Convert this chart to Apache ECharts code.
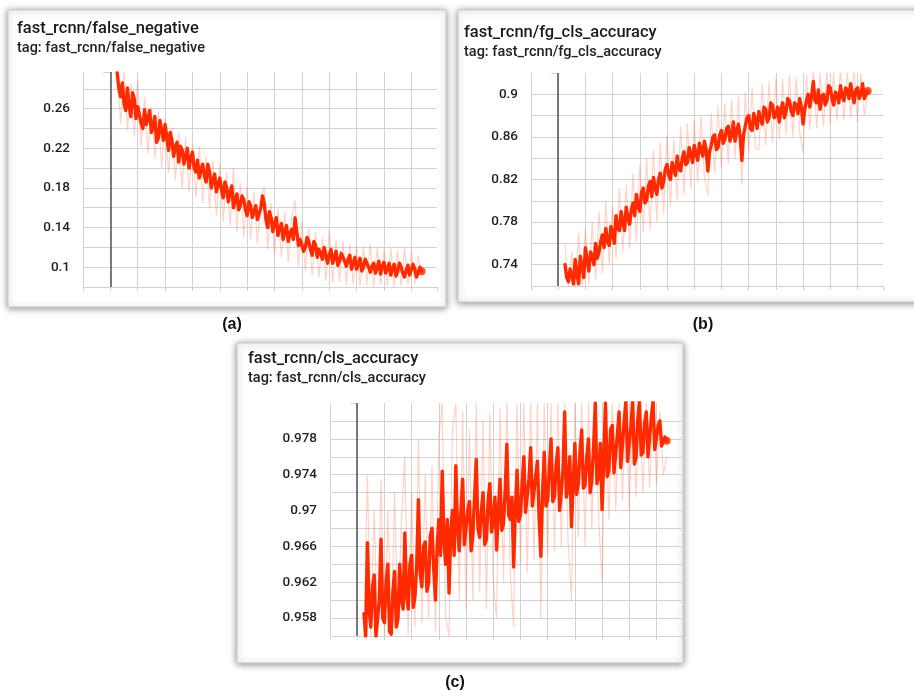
<!DOCTYPE html>
<html>
<head>
<meta charset="utf-8">
<script src="https://cdn.jsdelivr.net/npm/echarts@6/dist/echarts.min.js"></script>
<style>
html,body{margin:0;padding:0;background:#fff;}
#chart{width:914px;height:696px;}
</style>
</head>
<body>
<div id="chart"></div>
<script>
// ---- data (x = training step, in units where one grid column = 8) ----
// raw (unsmoothed) values are logged at every step
const steps = [2,3,4,5,6,7,8,9,10,11,12,13,14,15,16,17,18,19,20,21,22,23,24,25,26,27,28,29,30,31,32,33,34,35,36,37,38,39,40,41,42,43,44,45,46,47,48,49,50,51,52,53,54,55,56,57,58,59,60,61,62,63,64,65,66,67,68,69,70,71,72,73,74,75,76,77,78,79,80,81,82,83,84,85,86,87,88,89,90,91];
// smoothed curve is read at every half step
const stepsFine = [2,2.5,3,3.5,4,4.5,5,5.5,6,6.5,7,7.5,8,8.5,9,9.5,10,10.5,11,11.5,
12,12.5,13,13.5,14,14.5,15,15.5,16,16.5,17,17.5,18,18.5,19,19.5,20,20.5,21,21.5,
22,22.5,23,23.5,24,24.5,25,25.5,26,26.5,27,27.5,28,28.5,29,29.5,30,30.5,31,31.5,
32,32.5,33,33.5,34,34.5,35,35.5,36,36.5,37,37.5,38,38.5,39,39.5,40,40.5,41,41.5,
42,42.5,43,43.5,44,44.5,45,45.5,46,46.5,47,47.5,48,48.5,49,49.5,50,50.5,51,51.5,
52,52.5,53,53.5,54,54.5,55,55.5,56,56.5,57,57.5,58,58.5,59,59.5,60,60.5,61,61.5,
62,62.5,63,63.5,64,64.5,65,65.5,66,66.5,67,67.5,68,68.5,69,69.5,70,70.5,71,71.5,
72,72.5,73,73.5,74,74.5,75,75.5,76,76.5,77,77.5,78,78.5,79,79.5,80,80.5,81,81.5,
82,82.5,83,83.5,84,84.5,85,85.5,86,86.5,87,87.5,88,88.5,89,89.5,90,90.5,91];

const titles = ['fast_rcnn/false_negative','fast_rcnn/fg_cls_accuracy','fast_rcnn/cls_accuracy'];
const panelLabels = ['(a)','(b)','(c)'];

const fnSmooth = [0.296,0.280,0.272,0.286,0.265,0.258,0.281,0.262,0.252,0.276,0.270,0.250,0.262,0.264,0.245,0.240,0.259,0.244,0.250,0.258,
0.236,0.242,0.252,0.226,0.230,0.248,0.238,0.228,0.244,0.232,0.218,0.236,0.228,0.212,0.222,0.226,0.206,0.222,0.218,0.204,
0.212,0.220,0.200,0.210,0.216,0.200,0.196,0.208,0.190,0.198,0.204,0.192,0.186,0.204,0.196,0.180,0.188,0.194,0.176,0.184,
0.190,0.178,0.170,0.186,0.180,0.166,0.176,0.182,0.160,0.168,0.174,0.158,0.162,0.172,0.168,0.158,0.152,0.166,0.162,0.150,
0.156,0.162,0.148,0.154,0.160,0.172,0.164,0.148,0.140,0.156,0.150,0.136,0.144,0.150,0.132,0.140,0.144,0.128,0.136,0.142,
0.126,0.134,0.138,0.128,0.150,0.136,0.122,0.128,0.130,0.116,0.120,0.130,0.126,0.118,0.112,0.126,0.122,0.110,0.118,0.114,
0.108,0.120,0.118,0.104,0.112,0.118,0.104,0.110,0.116,0.102,0.106,0.114,0.110,0.106,0.101,0.108,0.112,0.098,0.104,0.110,
0.098,0.104,0.109,0.096,0.100,0.108,0.106,0.100,0.095,0.101,0.104,0.094,0.099,0.106,0.093,0.101,0.105,0.094,0.098,0.104,
0.092,0.099,0.103,0.091,0.096,0.104,0.100,0.094,0.090,0.097,0.102,0.092,0.094,0.103,0.098,0.090,0.092,0.100,0.096];
const fnRaw = [0.300,0.245,0.298,0.238,0.285,0.232,0.290,0.222,0.272,0.215,
0.262,0.210,0.258,0.200,0.250,0.195,0.240,0.188,0.236,0.180,
0.231,0.176,0.225,0.170,0.222,0.165,0.212,0.160,0.208,0.152,
0.205,0.146,0.196,0.141,0.200,0.136,0.185,0.130,0.182,0.128,
0.176,0.124,0.170,0.181,0.118,0.165,0.112,0.160,0.110,0.156,
0.105,0.150,0.168,0.100,0.146,0.096,0.140,0.092,0.136,0.090,
0.130,0.086,0.138,0.084,0.128,0.085,0.126,0.082,0.124,0.083,
0.122,0.081,0.121,0.082,0.124,0.080,0.120,0.082,0.118,0.081,
0.119,0.080,0.117,0.081,0.120,0.082,0.116,0.083,0.112,0.092];

const fgSmooth = [0.740,0.728,0.724,0.736,0.730,0.722,0.745,0.732,0.722,0.748,0.738,0.728,0.756,0.744,0.734,0.752,0.748,0.740,0.760,0.746,
0.752,0.762,0.768,0.756,0.774,0.762,0.758,0.776,0.770,0.760,0.786,0.774,0.772,0.790,0.780,0.772,0.794,0.784,0.778,0.792,
0.798,0.786,0.806,0.794,0.790,0.808,0.812,0.798,0.800,0.814,0.818,0.804,0.822,0.812,0.806,0.820,0.826,0.812,0.818,0.830,
0.834,0.824,0.820,0.836,0.830,0.824,0.842,0.830,0.828,0.840,0.846,0.834,0.836,0.850,0.844,0.836,0.852,0.844,0.838,0.854,
0.848,0.842,0.856,0.848,0.828,0.846,0.852,0.860,0.862,0.848,0.850,0.862,0.866,0.854,0.858,0.868,0.870,0.856,0.862,0.874,
0.856,0.866,0.872,0.860,0.838,0.862,0.870,0.878,0.880,0.868,0.866,0.882,0.876,0.868,0.884,0.876,0.872,0.888,0.886,0.874,
0.878,0.892,0.890,0.878,0.880,0.888,0.874,0.886,0.892,0.878,0.884,0.896,0.894,0.884,0.880,0.892,0.890,0.882,0.896,0.888,
0.872,0.886,0.894,0.900,0.888,0.898,0.912,0.894,0.892,0.904,0.886,0.898,0.900,0.890,0.894,0.908,0.906,0.896,0.890,0.902,
0.900,0.892,0.908,0.898,0.894,0.906,0.904,0.896,0.910,0.900,0.892,0.904,0.906,0.896,0.900,0.910,0.896,0.900,0.903];
const fgRaw = [0.760,0.718,0.752,0.712,0.770,0.715,0.775,0.722,0.780,0.725,
0.790,0.732,0.800,0.740,0.795,0.745,0.812,0.752,0.815,0.755,
0.826,0.762,0.834,0.770,0.840,0.772,0.848,0.780,0.855,0.788,
0.862,0.795,0.858,0.800,0.870,0.806,0.872,0.812,0.876,0.818,
0.880,0.822,0.805,0.882,0.826,0.890,0.830,0.892,0.835,0.895,
0.840,0.898,0.815,0.902,0.845,0.906,0.850,0.848,0.910,0.852,
0.912,0.855,0.915,0.858,0.914,0.862,0.918,0.860,0.916,0.864,
0.845,0.918,0.866,0.925,0.868,0.920,0.870,0.922,0.872,0.921,
0.875,0.924,0.876,0.922,0.878,0.925,0.874,0.920,0.880,0.900];

const clsSmooth = [0.9585,0.9560,0.9664,0.9590,0.9570,0.9615,0.9628,0.9560,0.9560,0.9600,0.9668,0.9580,0.9575,0.9620,0.9640,0.9565,0.9562,0.9610,0.9632,0.9570,
0.9580,0.9640,0.9600,0.9590,0.9675,0.9605,0.9590,0.9640,0.9650,0.9592,0.9605,0.9640,0.9712,0.9630,0.9615,0.9660,0.9665,0.9610,0.9620,0.9672,
0.9680,0.9635,0.9600,0.9660,0.9690,0.9650,0.9744,0.9668,0.9640,0.9690,0.9608,0.9675,0.9700,0.9650,0.9750,0.9680,0.9655,0.9700,0.9735,0.9662,
0.9660,0.9700,0.9710,0.9655,0.9672,0.9715,0.9757,0.9680,0.9670,0.9700,0.9720,0.9662,0.9668,0.9712,0.9730,0.9676,0.9690,0.9715,0.9656,0.9700,
0.9735,0.9678,0.9685,0.9722,0.9774,0.9695,0.9690,0.9715,0.9637,0.9700,0.9745,0.9688,0.9695,0.9730,0.9760,0.9698,0.9700,0.9735,0.9770,0.9705,
0.9705,0.9740,0.9755,0.9690,0.9649,0.9720,0.9765,0.9705,0.9712,0.9748,0.9780,0.9710,0.9715,0.9752,0.9770,0.9700,0.9720,0.9745,0.9810,0.9715,
0.9725,0.9760,0.9682,0.9730,0.9775,0.9718,0.9730,0.9765,0.9790,0.9725,0.9728,0.9760,0.9780,0.9720,0.9735,0.9770,0.9820,0.9730,0.9740,0.9775,
0.9701,0.9760,0.9820,0.9738,0.9745,0.9790,0.9795,0.9742,0.9740,0.9785,0.9810,0.9748,0.9750,0.9800,0.9822,0.9755,0.9755,0.9795,0.9822,0.9752,
0.9760,0.9802,0.9822,0.9762,0.9765,0.9798,0.9810,0.9760,0.9758,0.9805,0.9822,0.9768,0.9770,0.9795,0.9800,0.9772,0.9772,0.9782,0.9778];
const clsRaw = [0.9560,0.9740,0.9560,0.9700,0.9560,0.9735,0.9560,0.9700,0.9560,0.9720,
0.9565,0.9690,0.9760,0.9560,0.9720,0.9570,0.9780,0.9575,0.9740,0.9580,
0.9750,0.9565,0.9780,0.9820,0.9580,0.9560,0.9790,0.9820,0.9600,0.9810,
0.9590,0.9790,0.9600,0.9820,0.9610,0.9800,0.9590,0.9810,0.9620,0.9580,
0.9815,0.9620,0.9820,0.9630,0.9570,0.9820,0.9640,0.9820,0.9630,0.9820,
0.9645,0.9820,0.9580,0.9820,0.9650,0.9820,0.9655,0.9820,0.9660,0.9820,
0.9665,0.9600,0.9820,0.9670,0.9820,0.9660,0.9820,0.9680,0.9820,0.9690,
0.9620,0.9820,0.9690,0.9820,0.9700,0.9820,0.9710,0.9820,0.9700,0.9820,
0.9715,0.9820,0.9720,0.9820,0.9725,0.9820,0.9730,0.9810,0.9740,0.9760];

// y-axis ranges and labelled ticks
const yMin = [0.08, 0.72, 0.956];
const yMax = [0.297, 0.92, 0.982];
const yStep = [0.02, 0.02, 0.002];
const yLabelFirst = [0.1, 0.74, 0.958];
const yLabelStep = [0.04, 0.04, 0.004];

// ---- chart ----
const smooths = [fnSmooth, fgSmooth, clsSmooth];
const raws = [fnRaw, fgRaw, clsRaw];
const pair = (xs, arr) => xs.map((s, i) => [s, arr[i]]);

const grids = [
  {left: 83, right: 477, top: 72, bottom: 409},
  {left: 531, right: 31, top: 73, bottom: 410},
  {left: 330, right: 232, top: 403, bottom: 60}
];
const gridColor = '#d2d2d2';
const FONT = 'Roboto, "Noto Sans", sans-serif';
const RED = '#ff2a00';

const xAxes = grids.map((g, i) => ({
  type: 'value', gridIndex: i, min: -8, max: 95.5, interval: 8,
  axisLine: {show: false}, axisLabel: {show: false},
  axisTick: {show: true, length: 4, lineStyle: {color: gridColor}},
  splitLine: {show: true, showMaxLine: false, lineStyle: {color: gridColor, width: 1}}
}));
const yAxes = grids.map((g, i) => ({
  type: 'value', gridIndex: i, min: yMin[i], max: yMax[i], interval: yStep[i],
  axisLine: {show: false},
  axisTick: {show: true, length: 7, lineStyle: {color: gridColor}},
  splitLine: {show: true, showMaxLine: false, lineStyle: {color: gridColor, width: 1}},
  axisLabel: {
    margin: 13, color: '#1f1f1f', fontSize: 13.5, fontWeight: 500, fontFamily: FONT,
    formatter: function (v) {
      const k = (v - yLabelFirst[i]) / yLabelStep[i];
      if (Math.abs(k - Math.round(k)) < 1e-6 && k > -0.5 && v < yMax[i] - yStep[i] * 0.5) {
        return String(+v.toFixed(4));
      }
      return '';
    }
  }
}));

const series = [];
for (let i = 0; i < 3; i++) {
  series.push({
    type: 'line', xAxisIndex: i, yAxisIndex: i, data: pair(steps, raws[i]),
    showSymbol: false, symbol: 'none', clip: true,
    lineStyle: {color: 'rgba(255,110,70,0.30)', width: 1.2},
    z: 2,
    markLine: {
      silent: true, symbol: ['none', 'none'], label: {show: false},
      lineStyle: {color: '#5c5c5c', width: 1.6, type: 'solid'},
      data: [{xAxis: 0}]
    }
  });
  series.push({
    type: 'line', xAxisIndex: i, yAxisIndex: i, data: pair(stepsFine, smooths[i]),
    showSymbol: false, symbol: 'none', clip: true,
    lineStyle: {color: RED, width: 3.4, join: 'round', cap: 'round'},
    z: 3
  });
  const last = stepsFine.length - 1;
  series.push({
    type: 'scatter', xAxisIndex: i, yAxisIndex: i,
    data: [[stepsFine[last], smooths[i][last]]],
    symbol: 'circle', symbolSize: 8, itemStyle: {color: RED}, z: 4, silent: true
  });
}

const cards = [
  {x: 8, y: 10, w: 438, h: 297},
  {x: 458, y: 10, w: 470, h: 292},
  {x: 237, y: 343, w: 446, h: 320}
];
const titlePos = [[17, 20], [464, 24], [248, 350]];
const labelPos = [[232, 325], [703, 325], [455, 683]];

const graphics = [];
cards.forEach((c) => {
  graphics.push({
    type: 'rect', z: -10, silent: true,
    shape: {x: c.x, y: c.y, width: c.w, height: c.h},
    style: {fill: '#fff', stroke: '#c8c8c8', lineWidth: 1,
      shadowBlur: 7, shadowColor: 'rgba(0,0,0,0.45)', shadowOffsetX: 0, shadowOffsetY: 1}
  });
});
titles.forEach((t, i) => {
  graphics.push({type: 'text', z: 10, silent: true, x: titlePos[i][0], y: titlePos[i][1],
    style: {text: t, fill: '#1a1a1a', font: '500 16.5px ' + FONT, verticalAlign: 'top'}});
  graphics.push({type: 'text', z: 10, silent: true, x: titlePos[i][0], y: titlePos[i][1] + 21,
    style: {text: 'tag: ' + t, fill: '#222', font: '500 14.5px ' + FONT, verticalAlign: 'top'}});
});
panelLabels.forEach((t, i) => {
  graphics.push({type: 'text', z: 10, silent: true, x: labelPos[i][0], y: labelPos[i][1],
    style: {text: t, fill: '#111', font: 'bold 16px "Liberation Sans", Arial, sans-serif',
      align: 'center', verticalAlign: 'middle'}});
});

const chart = echarts.init(document.getElementById('chart'), null, {renderer: 'canvas'});
chart.setOption({
  animation: false,
  backgroundColor: '#fff',
  grid: grids,
  xAxis: xAxes,
  yAxis: yAxes,
  series: series,
  graphic: graphics
});
</script>
</body>
</html>
